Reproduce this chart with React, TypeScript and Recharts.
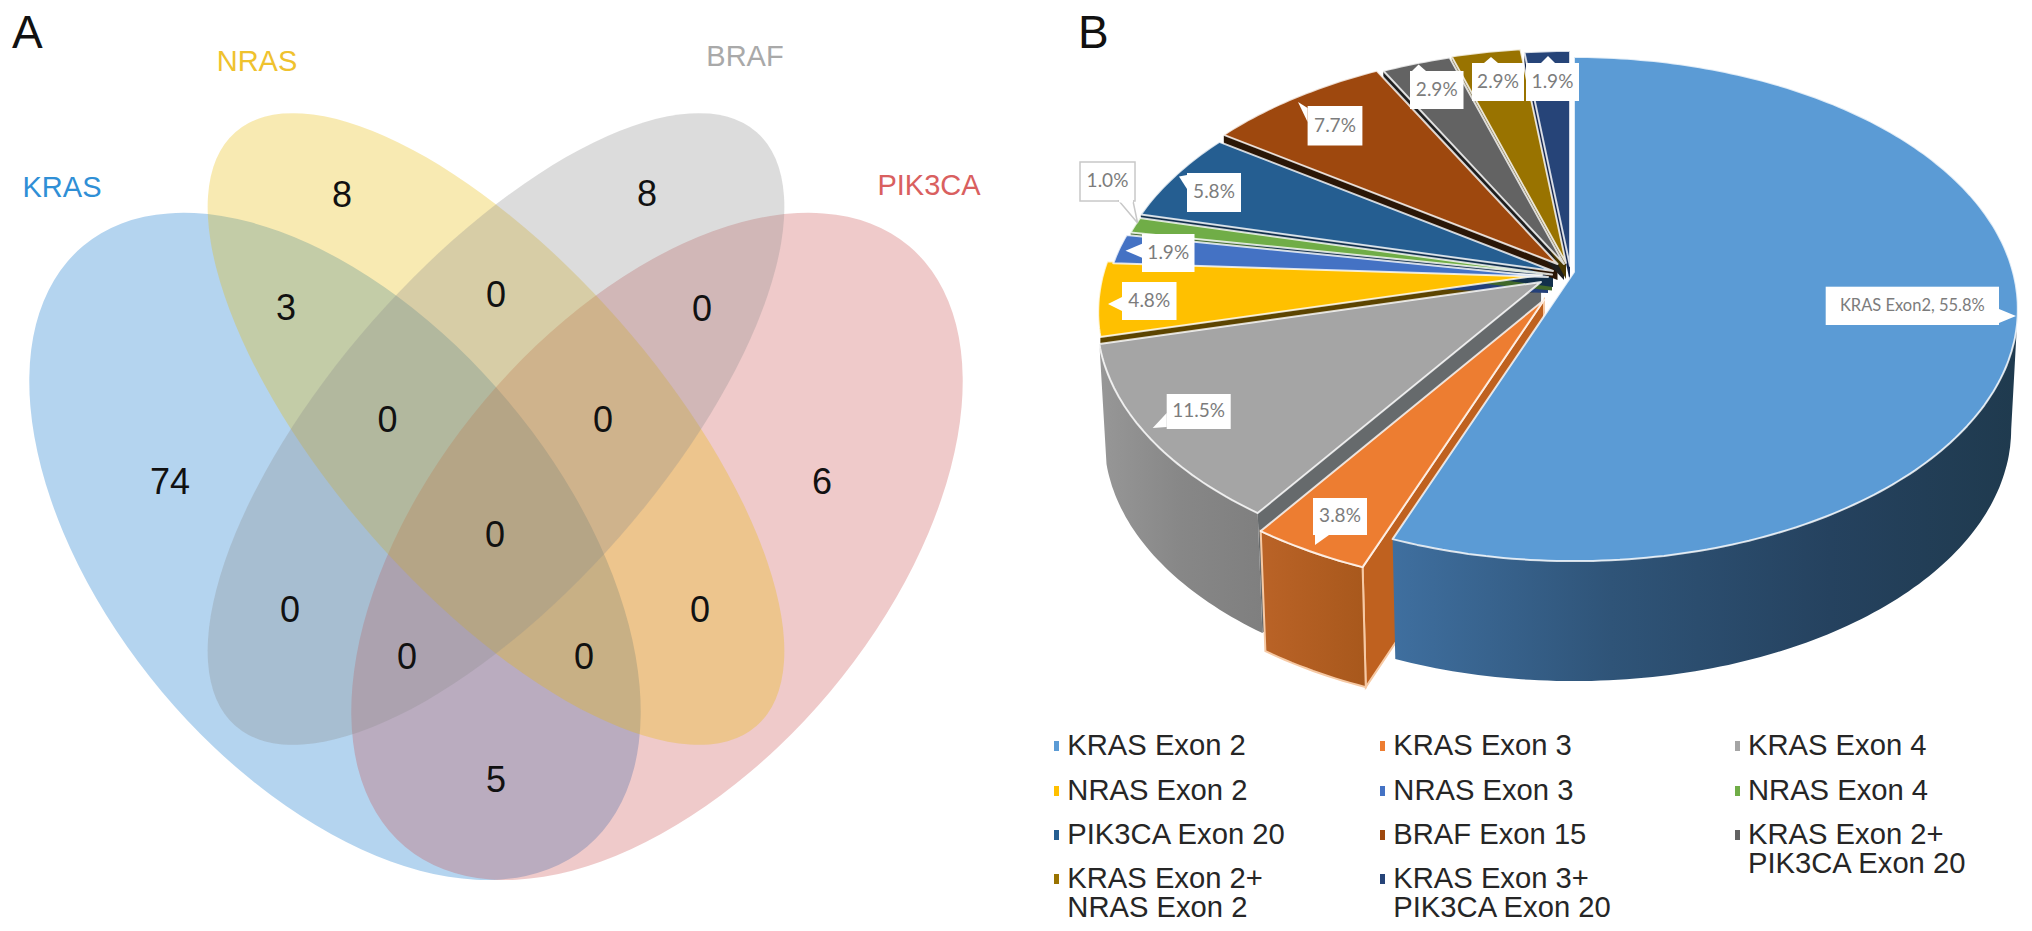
import React from "react";
import {
  ScatterChart, Scatter, XAxis, YAxis, PieChart, Pie, Legend,
} from "recharts";

// ---------- Panel A data (Venn diagram, in plane units) ----------
const vennSets = [
  { name: "KRAS", x: 335, y: 546.4, major: 392, minor: 226, tilt: 50 },
  { name: "PIK3CA", x: 657, y: 546.4, major: 392, minor: 226, tilt: -50 },
  { name: "NRAS", x: 496, y: 429, major: 395, minor: 164, tilt: 48.7 },
  { name: "BRAF", x: 496, y: 429, major: 395, minor: 164, tilt: -48.7 },
];
const vennCounts = [
  { x: 342, y: 194, count: 8 }, { x: 647, y: 193, count: 8 }, { x: 286, y: 307, count: 3 },
  { x: 496, y: 294, count: 0 }, { x: 702, y: 308, count: 0 }, { x: 170, y: 481, count: 74 },
  { x: 387.5, y: 419, count: 0 }, { x: 603, y: 419, count: 0 }, { x: 822, y: 481, count: 6 },
  { x: 495, y: 534, count: 0 }, { x: 290, y: 609, count: 0 }, { x: 407, y: 656, count: 0 },
  { x: 584, y: 656, count: 0 }, { x: 700, y: 609, count: 0 }, { x: 496, y: 779, count: 5 },
];
const vennNames = [
  { x: 62, y: 187, name: "KRAS", color: "#2f8fd6" },
  { x: 257, y: 61, name: "NRAS", color: "#efc22e" },
  { x: 745, y: 56, name: "BRAF", color: "#a9a9a9" },
  { x: 929, y: 185, name: "PIK3CA", color: "#d9605f" },
];
const vennFills: Record<string, string> = { KRAS: "#0570ca", NRAS: "#e8b900", BRAF: "#8a8a8a", PIK3CA: "#ca4e4e" };

// ---------- Panel B data ----------
const mutationNames = [
  "KRAS Exon 2", "KRAS Exon 3", "KRAS Exon 4", "NRAS Exon 2", "NRAS Exon 3", "NRAS Exon 4",
  "PIK3CA Exon 20", "BRAF Exon 15", "KRAS Exon 2+\nPIK3CA Exon 20", "KRAS Exon 2+\nNRAS Exon 2", "KRAS Exon 3+\nPIK3CA Exon 20",
];
const mutationShares = [55.8, 3.8, 11.5, 4.8, 1.9, 1.0, 5.8, 7.7, 2.9, 2.9, 1.9];
const pieRows = mutationNames.map((name, i) => ({ name, value: mutationShares[i] }));

// ---------- Panel B styling ----------
const sliceColors = ["#5b9bd5", "#ed7d31", "#a5a5a5", "#ffc000", "#4472c4", "#70ad47", "#255e91", "#9e480e", "#636363", "#997300", "#264478"];
const cutColors = ["#2c4c6c", "#bf611f", "#666a6c", "#5c4400", "#24407a", "#40682a", "#12304c", "#2a1606", "#1e1e1e", "#4a3800", "#14244a"];
const sliceShift = [[0, 0], [-30, 28], [-33, 10], [-32, 3], [-26, 5], [-22, 2.5], [-21, -1], [-16.5, -8], [-10, -8], [-8, -9], [-4, -6]];
const calloutBoxes = [
  { l: 1825.7, t: 286.7, r: 1999, b: 325, tipX: 2016, tipY: 316 },
  { l: 1313, t: 498, r: 1367, b: 535, tipX: 1315, tipY: 545 },
  { l: 1166.7, t: 394, r: 1230.7, b: 429, tipX: 1152.7, tipY: 428 },
  { l: 1122, t: 282, r: 1176.5, b: 320, tipX: 1108, tipY: 304 },
  { l: 1142, t: 234, r: 1194.5, b: 272, tipX: 1125.5, tipY: 250.7 },
  { l: 1080, t: 162, r: 1135, b: 201, tipX: 1137.6, tipY: 223, outlined: true },
  { l: 1187, t: 173, r: 1241, b: 212, tipX: 1179, tipY: 176.5 },
  { l: 1307.6, t: 106, r: 1362.4, b: 145.5, tipX: 1298, tipY: 102 },
  { l: 1410, t: 71, r: 1463.5, b: 109, tipX: 1418.6, tipY: 64.5 },
  { l: 1472, t: 63, r: 1524, b: 101, tipX: 1491, tipY: 57 },
  { l: 1526, t: 63, r: 1579, b: 101, tipX: 1548, tipY: 56 },
];

const PIE_LEFT = 1040;
const TILT_RATIO = 246.6 / 439;
const PERSPECTIVE = 0.147;
const DEPTH = 120;
const SHORT_CUT = 16;
const DEPTH_NARROW = 0.985;
const ORANGE = 1;
const GREY = 2;

type Ctx = { cx: number; cy: number; R: number; i: number };

const rad = (d: number) => (d * Math.PI) / 180;

function topPoint(c: Ctx, phi: number, r: number): [number, number] {
  const u = Math.sin(rad(phi)) * r;
  const v = -Math.cos(rad(phi)) * r;
  const den = 1 - PERSPECTIVE * v;
  const [dx, dy] = sliceShift[c.i];
  return [c.cx + dx + (c.R * u) / den, c.cy + dy + (c.R * TILT_RATIO * v) / den];
}
function lowPoint(c: Ctx, phi: number, r: number): [number, number] {
  const [x, y] = topPoint(c, phi, r);
  return [c.cx + (x - c.cx) * DEPTH_NARROW, y + DEPTH];
}
function arc(c: Ctx, a: number, b: number, fn: typeof topPoint) {
  const n = Math.max(2, Math.ceil(Math.abs(b - a)));
  const pts: [number, number][] = [];
  for (let k = 0; k <= n; k++) pts.push(fn(c, a + ((b - a) * k) / n, 1));
  return pts;
}
const toPath = (pts: [number, number][]) =>
  "M" + pts.map((p) => `${p[0].toFixed(1)},${p[1].toFixed(1)}`).join("L") + "Z";

function readSector(p: any) {
  const i = p.index ?? mutationNames.indexOf(p.name ?? p.payload?.name);
  return {
    c: { cx: p.cx, cy: p.cy, R: p.outerRadius, i } as Ctx,
    a: 90 - p.startAngle,
    b: 90 - p.endAngle,
  };
}

function CutLayer(p: any) {
  const { c, a } = readSector(p);
  if (c.i < GREY) return <g />;
  const t0 = topPoint(c, a, 0);
  const t1 = topPoint(c, a, 1);
  let pts: [number, number][];
  if (c.i === GREY) {
    pts = [t0, t1, lowPoint(c, a, 1), lowPoint(c, a, 0)];
  } else {
    pts = [t0, t1, [t1[0], t1[1] + SHORT_CUT], [t0[0], t0[1] + SHORT_CUT]];
  }
  return <path d={toPath(pts)} fill={cutColors[c.i]} />;
}
function OrangeLayer(p: any) {
  const { c, a, b } = readSector(p);
  if (c.i !== ORANGE) return <g />;
  const endFace = [topPoint(c, a, 1), topPoint(c, a, 0), lowPoint(c, a, 0), lowPoint(c, a, 1)];
  const wall = [...arc(c, a, b, topPoint), ...arc(c, b, a, lowPoint)];
  return (
    <g>
      <defs>
        <linearGradient id="orangeWall" x1="0" x2="1" y1="0" y2="0">
          <stop offset="0" stopColor="#ba6327" />
          <stop offset="1" stopColor="#a8581c" />
        </linearGradient>
      </defs>
      <path d={toPath(endFace)} fill={cutColors[ORANGE]} stroke="#f6c9a4" strokeWidth={2} />
      <path d={toPath(wall)} fill="url(#orangeWall)" stroke="#f6c9a4" strokeWidth={2} />
    </g>
  );
}
function WallLayer(p: any) {
  const { c, a, b } = readSector(p);
  if (c.i !== 0 && c.i !== GREY) return <g />;
  const from = Math.max(a, 98.5);
  const to = Math.min(b, 261.5);
  const wall = [...arc(c, from, to, topPoint), ...arc(c, to, from, lowPoint)];
  const fill = c.i === 0 ? "url(#blueWall)" : "url(#greyWall)";
  return (
    <g>
      <defs>
        <linearGradient id="blueWall" x1="0" x2="1" y1="0" y2="0">
          <stop offset="0" stopColor="#3f6f9f" />
          <stop offset="0.35" stopColor="#2f5478" />
          <stop offset="0.7" stopColor="#25425f" />
          <stop offset="1" stopColor="#1f3a4e" />
        </linearGradient>
        <linearGradient id="greyWall" x1="0" x2="1" y1="0" y2="0">
          <stop offset="0" stopColor="#979797" />
          <stop offset="0.5" stopColor="#878787" />
          <stop offset="1" stopColor="#7f7f7f" />
        </linearGradient>
      </defs>
      <path d={toPath(wall)} fill={fill} />
    </g>
  );
}
function TopLayer(p: any) {
  const { c, a, b } = readSector(p);
  const pts = [topPoint(c, a, 0), ...arc(c, a, b, topPoint)];
  return <path d={toPath(pts)} fill={sliceColors[c.i]} stroke="#ffffff" strokeOpacity={0.8} strokeWidth={2} strokeLinejoin="round" />;
}

function Callout(p: any) {
  const i = p.index;
  const box = calloutBoxes[i];
  if (!box) return null;
  const l = box.l - PIE_LEFT, r = box.r - PIE_LEFT, t = box.t, b = box.b;
  const tx = box.tipX - PIE_LEFT, ty = box.tipY;
  const nx = Math.min(r, Math.max(l, tx));
  const ny = Math.min(b, Math.max(t, ty));
  const alongY = Math.abs(tx - nx) > Math.abs(ty - ny);
  let base: [number, number][];
  if (alongY) {
    const y = Math.min(b - 9, Math.max(t + 9, ny));
    base = [[nx, y - 7], [nx, y + 7]];
  } else {
    const x = Math.min(r - 9, Math.max(l + 9, nx));
    base = [[x - 7, ny], [x + 7, ny]];
  }
  const label = i === 0 ? `KRAS Exon2, ${mutationShares[0].toFixed(1)}%` : `${mutationShares[i].toFixed(1)}%`;
  const stroke = box.outlined ? "#c8c8c8" : "none";
  return (
    <g>
      <rect x={l} y={t} width={r - l} height={b - t} fill="#fff" stroke={stroke} strokeWidth={1.5} />
      <path d={toPath([[tx, ty], base[0], base[1]])} fill="#fff" stroke={stroke} strokeWidth={1.5} />
      {box.outlined ? <path d={`M${base[0][0]},${base[0][1]}L${base[1][0]},${base[1][1]}`} stroke="#fff" strokeWidth={3} /> : null}
      <text x={(l + r) / 2} y={(t + b) / 2 + 1} textAnchor="middle" dominantBaseline="middle"
        fontFamily="Lato" fontSize={i === 0 ? 16.5 : 19} fill="#7c7c7c">{label}</text>
    </g>
  );
}

const legendTops = [730.5, 775.5, 819.8, 863.6];
const legendCols = [27.3, 353.3, 708];
function MutationLegend(props: any) {
  const items = (props.payload || []).filter((e: any) => e.type !== "none");
  return (
    <div style={{ position: "relative", width: 992, height: 931, fontFamily: "'Liberation Sans'", fontSize: 29.2, color: "#262626" }}>
      {items.map((e: any, i: number) => {
        const row = Math.floor(i / 3);
        return (
          <div key={i} style={{ position: "absolute", left: legendCols[i % 3], top: legendTops[row], whiteSpace: "pre", lineHeight: "29.4px" }}>
            <span style={{ position: "absolute", left: -13, top: 10, width: 5, height: 10, background: sliceColors[i] }} />
            {String(e.value)}
          </div>
        );
      })}
    </div>
  );
}

const EllipseMark = (p: any) => {
  const s = p.payload;
  return (
    <ellipse cx={p.cx} cy={p.cy} rx={s.major} ry={s.minor} transform={`rotate(${s.tilt} ${p.cx} ${p.cy})`}
      fill={vennFills[s.name]} fillOpacity={0.3} stroke="none" />
  );
};
const CountMark = (p: any) => (
  <text x={p.cx} y={p.cy} textAnchor="middle" dominantBaseline="central" fontFamily="'Liberation Sans'" fontSize={36} fill="#111">
    {p.payload.count}
  </text>
);
const NameMark = (p: any) => (
  <text x={p.cx} y={p.cy} textAnchor="middle" dominantBaseline="central" fontFamily="'Liberation Sans'" fontSize={29} fill={p.payload.color}>
    {p.payload.name}
  </text>
);

const letter: React.CSSProperties = {
  position: "absolute", fontFamily: "'Liberation Sans'", fontSize: 46, color: "#111", lineHeight: "46px",
};

export default function App() {
  const pieShared = {
    data: pieRows, dataKey: "value", nameKey: "name", cx: 1574 - PIE_LEFT, cy: 272, outerRadius: 439,
    startAngle: 90, endAngle: -270, isAnimationActive: false, stroke: "none", labelLine: false,
  } as const;
  return (
    <div style={{ position: "absolute", left: 0, top: 0, width: 2032, height: 931, background: "#fff", overflow: "hidden" }}>
      <div style={{ ...letter, left: 12, top: 9 }}>A</div>
      <div style={{ ...letter, left: 1078, top: 9 }}>B</div>
      <div style={{ position: "absolute", left: 0, top: 0 }}>
        <ScatterChart width={1040} height={931} margin={{ top: 0, right: 0, bottom: 0, left: 0 }}>
          <XAxis type="number" dataKey="x" domain={[0, 1040]} hide />
          <YAxis type="number" dataKey="y" domain={[0, 931]} reversed hide />
          <Scatter data={vennSets} shape={EllipseMark} isAnimationActive={false} />
          <Scatter data={vennCounts} shape={CountMark} isAnimationActive={false} />
          <Scatter data={vennNames} shape={NameMark} isAnimationActive={false} />
        </ScatterChart>
      </div>
      <div style={{ position: "absolute", left: PIE_LEFT, top: 0 }}>
        <PieChart width={992} height={931} margin={{ top: 0, right: 0, bottom: 0, left: 0 }}>
          <Pie {...pieShared} shape={CutLayer} legendType="none" />
          <Pie {...pieShared} shape={OrangeLayer} legendType="none" />
          <Pie {...pieShared} shape={WallLayer} legendType="none" />
          <Pie {...pieShared} shape={TopLayer} label={Callout} />
          <Legend content={MutationLegend} itemSorter={null} wrapperStyle={{ left: 0, top: 0, width: 992, height: 931, pointerEvents: "none" }} />
        </PieChart>
      </div>
    </div>
  );
}
